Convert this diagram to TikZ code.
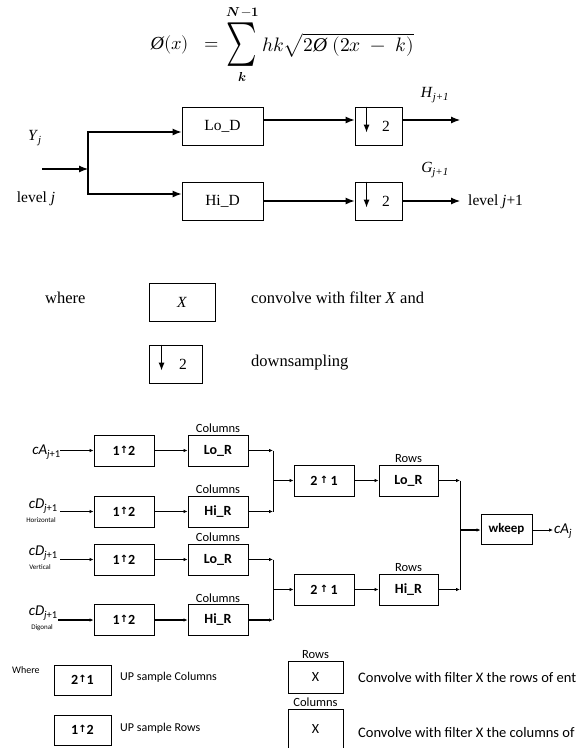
\documentclass[tikz,border=0pt]{standalone}
\usepackage{graphicx}
\usepackage{unicode-math}
\setmainfont{Liberation Serif}
\setmathfont{Latin Modern Math}
\newfontfamily\calib{Carlito}
\newfontfamily\djv{DejaVu Sans}
\usetikzlibrary{arrows.meta}
\newcommand{\upar}{{\djv\fontsize{10}{12}\selectfont\raisebox{0.3ex}{↑}}}
\begin{document}
\begin{tikzpicture}[x=1pt,y=-1pt,
  tb/.style={draw, line width=0.9pt, inner sep=0pt, font=\fontsize{15.5}{17}\selectfont},
  tt/.style={inner sep=0pt, font=\fontsize{15.5}{17}\selectfont},
  ta/.style={line width=1.1pt, -{Latex[length=9pt,width=7pt]}},
  bb/.style={draw, line width=0.9pt, inner sep=0pt, minimum width=60pt, minimum height=31pt, font=\calib\bfseries\fontsize{14}{16}\selectfont},
  ba/.style={line width=0.9pt, -{Latex[length=4pt,width=3.5pt]}},
  bl/.style={line width=0.9pt},
  hv/.style={line width=1.8pt},
  lab/.style={inner sep=0pt, font=\calib\fontsize{12.5}{14}\selectfont},
  ilab/.style={inner sep=0pt, font=\calib\itshape\fontsize{15}{17}\selectfont},
  sml/.style={inner sep=0pt, font=\calib\fontsize{7}{8}\selectfont},
]
\clip (0,0) rectangle (580,748);
\fill[white] (0,0) rectangle (580,748);

% formula
\node[anchor=east, inner sep=0pt, font=\fontsize{18.5}{20}\selectfont] (phx) at (219,45) {{\itshape\O}$(x)\;\;=$};
\node[inner sep=0pt] (sig) at (242,45) {\scalebox{1}[1.5]{\fontsize{29}{30}\selectfont$\sum$}};
\node[inner sep=0pt, font=\fontsize{13}{14}\selectfont] (nm) at (243,12) {$\symbfit{N}\!-\!\symbf{1}$};
\node[inner sep=0pt, font=\fontsize{13}{14}\selectfont] (kk) at (242,77) {$\symbfit{k}$};
\node[anchor=west, inner sep=0pt, font=\fontsize{19.5}{21}\selectfont] (rhs) at (262,45) {$hk\sqrt{2\mbox{\itshape\O}\;(2x\;-\;k)}$};

% top diagram
\node[tb, minimum width=81pt, minimum height=38pt] (lod) at (222.5,126) {Lo\_D};
\node[tb, minimum width=81pt, minimum height=38pt] (hid) at (222.5,201) {Hi\_D};
\node[tb, minimum width=47pt, minimum height=38pt] (dt) at (378.5,126) {};
\node[tb, minimum width=47pt, minimum height=38pt] (db) at (378.5,201) {};
\node[tt] (dt2) at (386,126) {2};
\node[tt] (db2) at (386,201) {2};
\draw[line width=1pt, -{Latex[length=8pt,width=6pt]}] ([xshift=12pt]dt.north west) -- ++(0,26);
\draw[line width=1pt, -{Latex[length=8pt,width=6pt]}] ([xshift=12pt]db.north west) -- ++(0,26);

\node[tt] (yj) at (35,138) {\textit{Y}\textsubscript{\textit{j}}};
\node[tt] (lvj) at (36,199) {level \textit{j}};
\node[tt] (hj) at (435,95) {\textit{H}\textsubscript{\textit{j+1}}};
\node[tt] (gj) at (435,170) {\textit{G}\textsubscript{\textit{j+1}}};
\node[tt, anchor=west] (lvj1) at (468,202) {level \textit{j}+1};

\coordinate (tin) at (42,169);
\coordinate (tsp) at (88,169);
\draw[ta] (tin) -- (tsp);
\draw[ta] (tsp) |- ([yshift=-6pt]lod.west);
\draw[ta] (tsp) |- ([yshift=7pt]hid.west);
\draw[ta] ([yshift=6pt]lod.east) -- ([yshift=6pt]dt.west);
\draw[ta] (hid.east) -- (db.west);
\coordinate (hout) at (460,120);
\coordinate (gout) at (460,201);
\draw[ta] ([yshift=6pt]dt.east) -- (hout);
\draw[ta] (db.east) -- (gout);

% top legend
\node[tt, anchor=west, font=\fontsize{16.5}{18}\selectfont] (wh) at (45,298) {where};
\node[tb, minimum width=66pt, minimum height=38pt] (lx) at (182,302) {\textit{X}};
\node[tt, anchor=west, font=\fontsize{16.5}{18}\selectfont] (lxt) at (251,298) {convolve with filter \textit{X} and};
\node[tb, minimum width=53pt, minimum height=38pt] (ld) at (175.5,364) {};
\node[tt] (ld2) at (183,364) {2};
\draw[line width=1pt, -{Latex[length=8pt,width=6pt]}] ([xshift=13pt]ld.north west) -- ++(0,26);
\node[tt, anchor=west, font=\fontsize{16.5}{18}\selectfont] (ldt) at (251,363) {downsampling};

% bottom diagram, first column
\node[bb] (u1) at (124,450.5) {1\upar2};
\node[bb] (u2) at (124,511.5) {1\upar2};
\node[bb] (u3) at (124,559.5) {1\upar2};
\node[bb] (u4) at (124,620) {1\upar2};
\node[bb] (c1) at (218,450.5) {Lo\_R};
\node[bb] (c2) at (218,511.5) {Hi\_R};
\node[bb] (c3) at (218,559.5) {Lo\_R};
\node[bb] (c4) at (218,620) {Hi\_R};
\node[lab, anchor=south] (cl1) at ([yshift=1.5pt]c1.north) {Columns};
\node[lab, anchor=south] (cl2) at ([yshift=1.5pt]c2.north) {Columns};
\node[lab, anchor=south] (cl3) at ([yshift=1.5pt]c3.north) {Columns};
\node[lab, anchor=south] (cl4) at ([yshift=1.5pt]c4.north) {Columns};

% inputs
\node[ilab, anchor=east] (a1) at (61,452) {cA\textsubscript{\itshape j\upshape+1}};
\node[ilab, anchor=east] (a2) at (58,506) {cD\textsubscript{\itshape j\upshape+1}};
\node[sml] (h2) at (41,520) {Horizontal};
\node[ilab, anchor=east] (a3) at (58,553) {cD\textsubscript{\itshape j\upshape+1}};
\node[sml] (h3) at (40,567) {Vertical};
\node[ilab, anchor=east] (a4) at (58,613) {cD\textsubscript{\itshape j\upshape+1}};
\node[sml] (h4) at (42,628) {Digonal};
\coordinate (i1) at (60,450.5);
\coordinate (i2) at (60,511.5);
\coordinate (i3) at (60,559.5);
\coordinate (i4) at (58,620);
\draw[ba,hv] (i1) -- (u1.west);
\draw[ba] (i2) -- (u2.west);
\draw[ba] (i3) -- (u3.west);
\draw[ba,hv] (i4) -- (u4.west);
\draw[ba] (u1.east) -- (c1.west);
\draw[ba] (u2.east) -- (c2.west);
\draw[ba] (u3.east) -- (c3.west);
\draw[ba,hv] (u4.east) -- (c4.west);

% merges stage 1
\coordinate (m1a) at (273,450.5);
\coordinate (m1b) at (273,511.5);
\coordinate (m1) at (273,480.5);
\coordinate (m2a) at (273,559.5);
\coordinate (m2b) at (273,620);
\coordinate (m2) at (273,589.5);
\draw[ba] (c1.east) -- (m1a);
\draw[ba,hv] (c2.east) -- (m1b);
\draw[bl] (m1a) -- (m1b);
\draw[ba] (c3.east) -- (m2a);
\draw[ba,hv] (c4.east) -- (m2b);
\draw[bl] (m2a) -- (m2b);

% stage 2
\node[bb] (d1) at (324,480.5) {2\,\upar\,1};
\node[bb] (d2) at (324,589.5) {2\,\upar\,1};
\node[bb, minimum width=59pt] (e1) at (408.5,480.5) {Lo\_R};
\node[bb, minimum width=59pt] (e2) at (408.5,589.5) {Hi\_R};
\node[lab, anchor=south] (rl1) at ([yshift=2pt]e1.north) {Rows};
\node[lab, anchor=south] (rl2) at ([yshift=2pt]e2.north) {Rows};
\draw[ba,hv] (m1) -- (d1.west);
\draw[ba] (m2) -- (d2.west);
\draw[ba,hv] (d1.east) -- (e1.west);
\draw[ba] (d2.east) -- (e2.west);

\coordinate (n1a) at (460,480.5);
\coordinate (n1b) at (460,589.5);
\coordinate (n1) at (460,530);
\draw[ba,hv] (e1.east) -- (n1a);
\draw[ba] (e2.east) -- (n1b);
\draw[bl] (n1a) -- (n1b);
\node[bb, minimum width=51pt, minimum height=30pt, font=\calib\bfseries\fontsize{13}{15}\selectfont] (wk) at (506.5,529) {wkeep};
\draw[ba,hv] (n1) -- (wk.west |- n1);
\coordinate (cout) at (553,530);
\draw[ba] (wk.east |- cout) -- (cout);
\node[ilab, anchor=west] (caj) at (554,531) {cA\textsubscript{\itshape j}};

% bottom legend
\node[lab, anchor=west, font=\calib\fontsize{10}{12}\selectfont] (wh2) at (12,670) {Where};
\node[bb, minimum width=57pt, minimum height=30pt] (lg1) at (82.5,680) {2\upar1};
\node[lab, anchor=west, font=\calib\fontsize{12}{14}\selectfont] (lg1t) at (120,677) {UP sample Columns};
\node[bb, minimum width=57pt, minimum height=30pt] (lg2) at (82.5,730) {1\upar2};
\node[lab, anchor=west, font=\calib\fontsize{12}{14}\selectfont] (lg2t) at (120,728) {UP sample Rows};
\node[bb, minimum width=55pt, minimum height=32pt, font=\calib\fontsize{14}{16}\selectfont] (lg3) at (315.5,677) {X};
\node[lab, anchor=south] (lg3l) at ([yshift=1.5pt]lg3.north) {Rows};
\node[lab, anchor=west, font=\calib\fontsize{14.5}{16}\selectfont] (lg3t) at (358,678) {Convolve with filter X the rows of ent};
\node[bb, minimum width=55pt, minimum height=40pt, font=\calib\fontsize{14}{16}\selectfont] (lg4) at (315.5,729) {X};
\node[lab, anchor=south] (lg4l) at ([yshift=1.5pt]lg4.north) {Columns};
\node[lab, anchor=west, font=\calib\fontsize{14.5}{16}\selectfont] (lg4t) at (358,733) {Convolve with filter X the columns of};
\end{tikzpicture}
\end{document}
